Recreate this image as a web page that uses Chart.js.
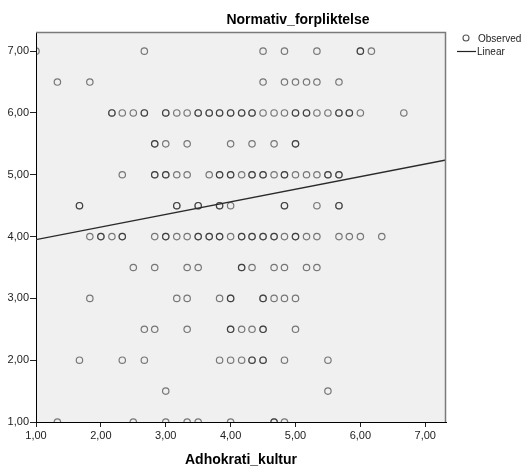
<!DOCTYPE html>
<html>
<head>
<meta charset="utf-8">
<script src="https://cdn.jsdelivr.net/npm/chart.js@4.4.1/dist/chart.umd.min.js"></script>
<style>
  body { margin: 0; background: #fff; }
  #wrap { width: 525px; height: 469px; }
</style>
</head>
<body>
<div id="wrap"><canvas id="chart" width="525" height="469"></canvas></div>
<script>
// Adhokrati_kultur values for each Normativ_forpliktelse level
// (repeated values = overlapping cases, drawn darker)
const row700 = [1.00, 2.67, 4.50, 4.83, 5.33, 6.00, 6.00, 6.17];
const row650 = [1.33, 1.83, 4.50, 4.83, 5.00, 5.17, 5.33, 5.67];
const row600 = [2.17, 2.17, 2.33, 2.50, 2.67, 2.67, 3.00, 3.00, 3.17, 3.33, 3.50, 3.50, 3.67, 3.67,
                3.83, 3.83, 4.00, 4.00, 4.17, 4.17, 4.33, 4.33, 4.50, 4.67, 4.83, 5.00, 5.00, 5.17, 5.17,
                5.33, 5.50, 5.67, 5.67, 5.83, 5.83, 6.00, 6.67];
const row550 = [2.83, 2.83, 3.00, 3.33, 4.00, 4.33, 4.67, 5.00, 5.00];
const row500 = [2.33, 2.83, 2.83, 3.00, 3.00, 3.17, 3.33, 3.67, 3.83, 3.83, 4.00, 4.00, 4.17, 4.33, 4.33,
                4.50, 4.50, 4.67, 4.83, 4.83, 5.00, 5.17, 5.33, 5.50, 5.50, 5.67, 5.67];
const row450 = [1.67, 1.67, 3.17, 3.17, 3.50, 3.50, 3.83, 3.83, 4.00, 4.83, 4.83, 5.33, 5.67, 5.67];
const row400 = [1.83, 2.00, 2.00, 2.17, 2.33, 2.33, 2.83, 3.00, 3.00, 3.17, 3.33, 3.50, 3.50, 3.67, 3.67,
                3.83, 3.83, 4.00, 4.17, 4.17, 4.33, 4.33, 4.50, 4.50, 4.67, 4.67, 4.83, 5.00, 5.00, 5.17,
                5.33, 5.67, 5.83, 6.00, 6.33];
const row350 = [2.50, 2.83, 3.33, 3.50, 4.17, 4.17, 4.33, 4.67, 4.83, 5.17, 5.33];
const row300 = [1.83, 3.17, 3.33, 3.83, 4.00, 4.00, 4.50, 4.50, 4.67, 4.83, 5.00];
const row250 = [2.67, 2.83, 3.33, 4.00, 4.00, 4.17, 4.33, 4.50, 4.50, 5.00];
const row200 = [1.67, 2.33, 2.67, 3.83, 4.00, 4.17, 4.33, 4.33, 4.50, 4.50, 4.83, 5.50];
const row150 = [3.00, 5.50];
const row100 = [1.33, 2.50, 3.00, 3.33, 3.50, 4.00, 4.67, 4.67, 4.83];

const levels = [7.0, 6.5, 6.0, 5.5, 5.0, 4.5, 4.0, 3.5, 3.0, 2.5, 2.0, 1.5, 1.0];
const rows = [row700, row650, row600, row550, row500, row450, row400, row350, row300, row250, row200, row150, row100];

// linear fit
const fitIntercept = 3.746;
const fitSlope = 0.204;

const xMin = 1, xMax = 7.32;
const yMin = 1, yMax = 7.31;

const observed = [];
rows.forEach((xs, i) => xs.forEach(x => observed.push({ x: x, y: levels[i] })));

const fitLine = [xMin, xMax].map(x => ({ x: x, y: fitIntercept + fitSlope * x }));

const FONT = "Arial, 'Liberation Sans', sans-serif";
const fmt = v => Number(v).toFixed(2).replace('.', ',');

const frame = {
  id: 'frame',
  beforeDraw(chart) {
    const { ctx, chartArea: a } = chart;
    ctx.save();
    ctx.fillStyle = '#f0f0f0';
    ctx.fillRect(a.left, a.top, a.right - a.left, a.bottom - a.top);
    ctx.restore();
  },
  afterDraw(chart) {
    const { ctx, chartArea: a } = chart;
    ctx.save();
    // top / right frame
    ctx.strokeStyle = '#7a7a7a';
    ctx.lineWidth = 1.5;
    ctx.beginPath();
    ctx.moveTo(a.left, a.top + 0.5);
    ctx.lineTo(a.right - 0.5, a.top + 0.5);
    ctx.lineTo(a.right - 0.5, a.bottom);
    ctx.stroke();

    // y variable name on top
    ctx.fillStyle = '#000';
    ctx.font = 'bold 14px ' + FONT;
    ctx.textAlign = 'center';
    ctx.textBaseline = 'alphabetic';
    ctx.fillText('Normativ_forpliktelse', 298, 24);

    // legend
    ctx.font = '10px ' + FONT;
    ctx.textAlign = 'left';
    ctx.textBaseline = 'middle';
    ctx.strokeStyle = '#555';
    ctx.lineWidth = 1.1;
    ctx.beginPath();
    ctx.arc(466, 38, 3, 0, Math.PI * 2);
    ctx.stroke();
    ctx.fillStyle = '#222';
    ctx.fillText('Observed', 478, 39);
    ctx.strokeStyle = '#222';
    ctx.lineWidth = 1.2;
    ctx.beginPath();
    ctx.moveTo(457, 51.5);
    ctx.lineTo(476, 51.5);
    ctx.stroke();
    ctx.fillText('Linear', 477, 52);
    ctx.restore();
  }
};

new Chart(document.getElementById('chart'), {
  type: 'scatter',
  data: {
    datasets: [
      {
        label: 'Linear',
        data: fitLine,
        showLine: true,
        borderColor: '#2a2a2a',
        borderWidth: 1.3,
        pointRadius: 0,
        fill: false,
        clip: 0
      },
      {
        label: 'Observed',
        data: observed,
        backgroundColor: 'rgba(0,0,0,0)',
        borderColor: 'rgba(20,20,20,0.55)',
        pointBorderWidth: 1.2,
        pointRadius: 3.2,
        clip: 0
      }
    ]
  },
  options: {
    responsive: false,
    animation: false,
    events: [],
    layout: { padding: { top: 32, right: 79, left: 0, bottom: 0 } },
    plugins: { legend: { display: false }, tooltip: { enabled: false } },
    scales: {
      x: {
        type: 'linear',
        min: xMin,
        max: xMax,
        afterFit: s => { s.height = 47; },
        afterBuildTicks: s => { s.ticks = s.ticks.filter(t => Number.isInteger(t.value)); },
        ticks: {
          stepSize: 1, includeBounds: false, padding: 2,
          color: '#222', font: { family: FONT, size: 11 },
          callback: v => fmt(v), maxRotation: 0
        },
        grid: { drawOnChartArea: false, tickLength: 5, color: '#222' },
        border: { color: '#000', width: 1 },
        title: {
          display: true, text: 'Adhokrati_kultur', color: '#000',
          font: { family: FONT, size: 14, weight: 'bold' },
          padding: { top: 4, bottom: 0 }
        }
      },
      y: {
        type: 'linear',
        min: yMin,
        max: yMax,
        afterFit: s => { s.width = 36; },
        afterBuildTicks: s => { s.ticks = s.ticks.filter(t => Number.isInteger(t.value)); },
        ticks: {
          stepSize: 1, includeBounds: false, padding: 1,
          color: '#222', font: { family: FONT, size: 11 },
          callback: v => fmt(v)
        },
        grid: { drawOnChartArea: false, tickLength: 6, color: '#222' },
        border: { color: '#000', width: 1 }
      }
    }
  },
  plugins: [frame]
});
</script>
</body>
</html>
